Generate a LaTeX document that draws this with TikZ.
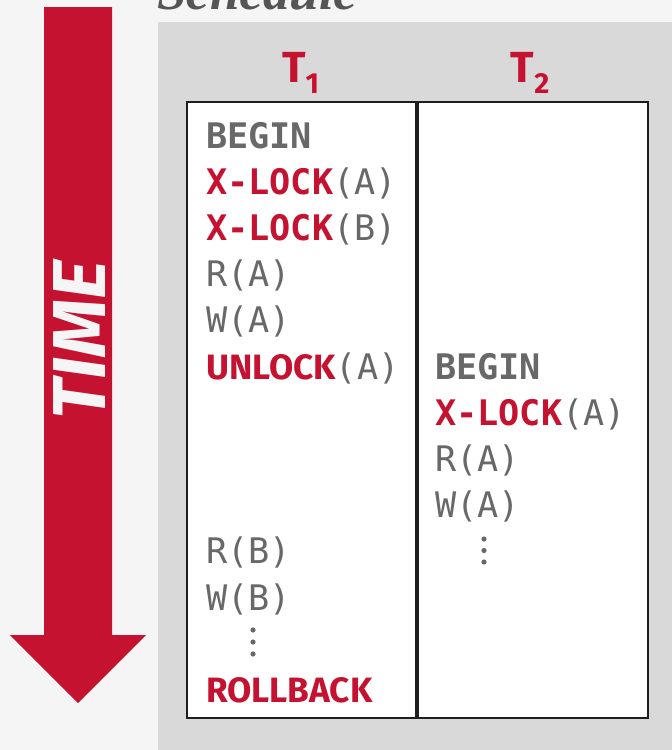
\documentclass[tikz,border=0pt]{standalone}
\usepackage{fontspec}
\setmainfont{Fira Sans}
\setsansfont{Fira Sans}
\setmonofont{DejaVu Sans Mono}
\newfontfamily\titlefont{Liberation Serif}
\usetikzlibrary{positioning}
\definecolor{cmured}{RGB}{196,18,48}
\definecolor{codegray}{RGB}{104,104,104}
\definecolor{titlegray}{RGB}{85,85,85}
\definecolor{panelgray}{RGB}{217,217,217}
\definecolor{pagegray}{RGB}{245,245,245}
\definecolor{boxline}{RGB}{30,30,30}
\newcommand{\kwmono}[1]{{\bfseries\color{cmured}#1}}
\newcommand{\kwsans}[1]{{\sffamily\bfseries\color{cmured}#1}}
\newcommand{\kwgray}[1]{{\bfseries #1}}

\begin{document}
\begin{tikzpicture}[x=1pt, y=-1pt,
    colbox/.style={draw=boxline, line width=2pt, fill=white, anchor=north west,
                   minimum height=616pt, inner sep=0pt},
    hdr/.style={text=cmured, inner sep=0pt, anchor=base,
                font=\fontsize{43.5}{50}\selectfont\sffamily\bfseries},
    op/.style={anchor=base west, inner sep=0pt, text=codegray,
               font=\fontsize{35.2}{40}\selectfont\ttfamily}]
    % Page and panel
    \fill[pagegray] (0,0) rectangle (672,750);
    \useasboundingbox (0,0) rectangle (672,750);
    \fill[panelgray] (158,22) rectangle (672,750);
    \node[anchor=base west, inner sep=0pt, text=titlegray,
          font=\fontsize{53}{60}\selectfont\titlefont\bfseries\itshape] (title) at (157,9) {Schedule};

    % Time arrow
    \fill[cmured] (44,7) -- (112,7) -- (112,635) -- (146,635) -- (78,703)
                  -- (10,635) -- (44,635) -- cycle;
    \node[rotate=90, inner sep=0pt, text=pagegray,
          font=\fontsize{75}{80}\selectfont\sffamily\bfseries\itshape] (timelbl) at (79.5,340) {TIME};

    % Columns
    \node[colbox, minimum width=229pt] (colA) at (186,101) {};
    \node[colbox, minimum width=230pt] (colB) at (colA.north east) {};
    \node[hdr] (hdrA) at (300.5,82) {T\raisebox{-11pt}{\fontsize{29}{30}\selectfont 1}};
    \node[hdr] (hdrB) at (530,82) {T\raisebox{-11pt}{\fontsize{29}{30}\selectfont 2}};

    % T1
    \node[op] (a0) at (206,148) {\kwgray{BEGIN}};
    \node[op] (a1) at (206,194.2) {\kwmono{X-LOCK}(A)};
    \node[op] (a2) at (206,240.4) {\kwmono{X-LOCK}(B)};
    \node[op] (a3) at (206,286.6) {R(A)};
    \node[op] (a4) at (206,332.8) {W(A)};
    \node[op] (a5) at (206,379) {\kwsans{UNLOCK}(A)};
    \node[op] (a9) at (206,563.8) {R(B)};
    \node[op] (a10) at (206,610) {W(B)};
    \foreach \d in {0,1,2}
        \fill[codegray] (253,630+12*\d) circle (2.6pt);
    \node[op] (a12) at (206,702.4) {\kwsans{ROLLBACK}};

    % T2
    \node[op] (b5) at (435,379) {\kwgray{BEGIN}};
    \node[op] (b6) at (435,425.2) {\kwmono{X-LOCK}(A)};
    \node[op] (b7) at (435,471.4) {R(A)};
    \node[op] (b8) at (435,517.6) {W(A)};
    \foreach \d in {0,1,2}
        \fill[codegray] (484,539+11.5*\d) circle (2.6pt);
\end{tikzpicture}
\end{document}
